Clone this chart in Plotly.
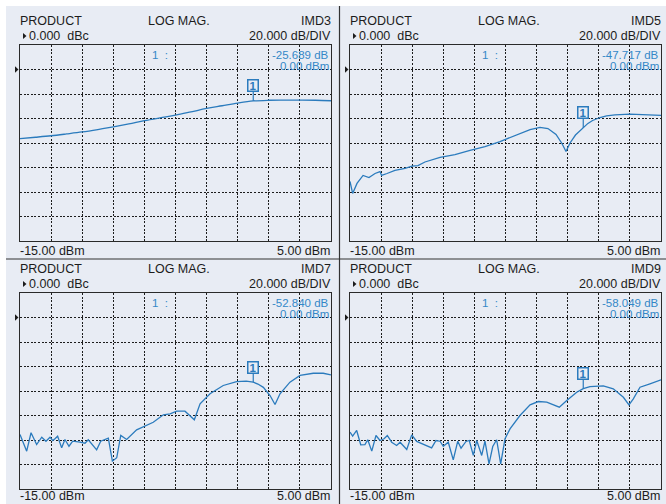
import plotly.graph_objects as go

W, H = 666, 504

# sweep span and vertical scale shared by all four traces
x_start, x_stop, x_step = -15.0, 5.0, 2.0
ref_level = 0.0
db_per_div = 20.0
divs_above_ref, divs_below_ref = 1, 7

panel_names = ["IMD3", "IMD5", "IMD7", "IMD9"]
product_label = "PRODUCT"
format_label = "LOG MAG."
ref_label = "0.000  dBc"
scale_label = "20.000 dB/DIV"
marker_id = "1"
marker_x = 0.00
marker_values = [-25.689, -47.717, -52.840, -58.049]

# IMD3 vs input power
imd3_dbm = [-15, -14, -13, -12, -11, -10, -9, -8, -7, -6, -5, -4, -3, -2, -1,
            0, 1, 2, 3, 4, 5]
imd3_db = [-56.4, -55.3, -54.1, -52.6, -51.0, -49.0, -46.8, -44.4, -41.8, -39.5,
           -37.3, -34.6, -31.8, -29.6, -27.4, -25.689, -25.1, -25.0, -25.0,
           -25.1, -25.5]

# IMD5 vs input power
imd5_dbm = [-15.0, -14.83, -14.55, -14.16, -13.78, -13.39, -13.07, -12.97, -12.62,
            -12.11, -11.46, -11.01, -10.63, -10.18, -9.21, -8.25, -7.28, -6.32,
            -5.35, -4.39, -3.42, -2.78, -2.27, -1.75, -1.37, -1.11, -0.85, -0.5,
            -0.25, 0.0, 0.3, 0.6, 1.08, 1.5, 2.04, 3.0, 3.97, 5.0]
imd5_db = [-91.4, -101.2, -93.0, -86.5, -88.2, -84.9, -83.3, -86.5, -84.9,
           -82.4, -80.8, -78.8, -78.4, -75.5, -71.8, -69.4, -66.1, -62.9,
           -58.8, -53.9, -49.0, -47.3, -48.2, -53.0, -60.4, -66.9, -60.0, -53.5,
           -50.3, -47.717, -44.0, -41.6, -39.2, -37.9, -37.0, -36.4, -36.7, -37.5]

# IMD7 vs input power
imd7_dbm = [-15.0, -14.57, -14.29, -13.93, -13.60, -13.33, -13.07, -12.90, -12.75,
            -12.58, -12.32, -12.11, -11.85, -11.61, -11.14, -10.82, -10.61, -10.07,
            -9.81, -9.32, -9.06, -8.78, -8.52, -8.14, -7.50, -6.85, -6.43, -5.78,
            -5.35, -4.92, -4.39, -3.79, -3.42, -2.78, -1.93, -1.07, -0.45, 0.0,
            0.3, 0.65, 1.08, 1.40, 1.72, 2.36, 3.01, 3.86, 4.50, 5.0]
imd7_db = [-95.5, -109.1, -94.1, -103.7, -97.7, -101.0, -97.7, -100.4, -99.0,
           -96.9, -106.4, -99.6, -105.1, -101.0, -101.8, -102.6, -99.8, -108.0,
           -101.0, -98.5, -117.3, -114.5, -96.3, -99.6, -91.7, -87.6, -85.5, -79.4,
           -78.6, -76.5, -76.5, -83.5, -70.4, -62.3, -55.5, -52.3, -51.9, -52.84,
           -54.3, -57.0, -63.7, -71.0, -62.3, -52.8, -47.3, -45.5, -45.5, -46.8]

# IMD9 vs input power
imd9_dbm = [-15.0, -14.83, -14.57, -14.31, -14.04, -13.86, -13.60, -13.33, -13.07,
            -12.81, -12.60, -12.32, -12.00, -11.78, -11.35, -11.03, -10.71, -10.29,
            -9.96, -9.75, -9.47, -9.21, -9.00, -8.68, -8.36, -8.07, -7.86, -7.54,
            -7.33, -7.07, -6.85, -6.53, -6.32, -6.06, -5.82, -5.57, -5.31, -5.03,
            -4.71, -4.07, -3.42, -2.89, -2.35, -1.54, -1.06, -0.42, 0.0, 0.43,
            1.29, 1.93, 2.58, 2.94, 3.22, 3.65, 4.29, 5.0]
imd9_db = [-93.6, -96.9, -92.2, -103.9, -103.7, -99.8, -109.1, -96.3, -100.4,
           -99.0, -96.3, -101.8, -104.5, -101.8, -107.8, -95.8, -101.2, -103.7,
           -105.3, -106.4, -100.4, -101.0, -105.1, -101.8, -116.2, -101.0, -106.7,
           -101.2, -100.4, -112.6, -100.4, -112.6, -101.0, -119.4, -105.3, -99.8,
           -119.4, -99.0, -90.9, -80.0, -71.3, -68.6, -69.1, -73.2, -67.8, -61.0,
           -58.049, -56.4, -55.8, -58.2, -65.1, -71.3, -66.4, -56.9, -54.1, -50.9]

series = [(imd3_dbm, imd3_db), (imd5_dbm, imd5_db),
          (imd7_dbm, imd7_db), (imd9_dbm, imd9_db)]
line_shapes = ["spline", "linear", "linear", "linear"]

# colours and fonts
BG = "#e8ecf4"
INK = "#1c1c1c"
TRACE = "#2b7bbd"
READOUT = "#3488c8"
FONT = "Liberation Sans, Arial, Helvetica, sans-serif"

# pixel frames of the four graticules: (left, top, right, bottom)
frames = [(20, 45, 331, 241), (350, 45, 661, 241),
          (20, 293, 331, 489), (350, 293, 661, 489)]


def px(x):
    return x / W


def py(y):
    return 1 - y / H


fig = go.Figure()
annotations = []
shapes = []

# panel background with a thin white margin at top and left
shapes.append(dict(type="rect", xref="paper", yref="paper",
                   x0=px(6), x1=1, y0=0, y1=py(6),
                   fillcolor=BG, line=dict(width=0), layer="below"))

y_lo = ref_level - divs_below_ref * db_per_div
y_hi = ref_level + divs_above_ref * db_per_div

for i, ((xs, ys), (l, t, r, b)) in enumerate(zip(series, frames)):
    n = "" if i == 0 else str(i + 1)
    xa, ya = "x" + n, "y" + n
    axis_style = dict(showgrid=True, gridcolor=INK, gridwidth=1,
                      griddash="2px,1.6px", showline=True, linecolor="#2a2a2a",
                      linewidth=1, mirror=True, showticklabels=False, ticks="",
                      zeroline=False, fixedrange=True)
    fig.update_layout(**{
        "xaxis" + n: dict(domain=[px(l), px(r)], range=[x_start, x_stop],
                          tick0=x_start, dtick=x_step, anchor=ya, **axis_style),
        "yaxis" + n: dict(domain=[py(b), py(t)], range=[y_lo, y_hi],
                          tick0=ref_level, dtick=db_per_div, anchor=xa,
                          **axis_style),
    })
    fig.add_trace(go.Scatter(x=xs, y=ys, mode="lines", xaxis=xa, yaxis=ya,
                             line=dict(color=TRACE, width=1.3,
                                       shape=line_shapes[i]),
                             hoverinfo="skip", showlegend=False))

    # header text above the graticule
    row1 = t - 24
    row2 = t - 9
    hdr = dict(xref="paper", yref="paper", showarrow=False, borderpad=0,
               font=dict(family=FONT, size=12.5, color=INK), yanchor="middle")
    annotations += [
        dict(hdr, x=px(l - 1), y=py(row1), text=product_label, xanchor="left"),
        dict(hdr, x=px(l + 158.5), y=py(row1), text=format_label, xanchor="center"),
        dict(hdr, x=px(r + 1), y=py(row1), text=panel_names[i], xanchor="right"),
        dict(hdr, x=px(l + 8), y=py(row2), text=ref_label, xanchor="left"),
        dict(hdr, x=px(r + 1), y=py(row2), text=scale_label, xanchor="right"),
    ]
    # sweep limits under the graticule (kept inside the page at the bottom)
    lim_bottom = min(b + 18, H)
    lim = dict(hdr, yanchor="bottom", y=py(lim_bottom))
    annotations += [
        dict(lim, x=px(l - 1), text=f"{x_start:.2f} dBm", xanchor="left"),
        dict(lim, x=px(r + 1), text=f"{x_stop:.2f} dBm", xanchor="right"),
    ]
    # small pointer in front of the reference value
    tx, ty = l + 3, row2
    shapes.append(dict(type="path", xref="paper", yref="paper",
                       path=f"M {px(tx)} {py(ty - 3)} L {px(tx + 3.5)} {py(ty)} "
                            f"L {px(tx)} {py(ty + 3)} Z",
                       fillcolor=INK, line=dict(width=0)))
    # reference-level pointer at the left edge of the graticule
    shapes.append(dict(type="path", xref="paper", yref=ya,
                       path=f"M {px(l - 5)} {ref_level + 2.6} L {px(l - 1.5)} {ref_level} "
                            f"L {px(l - 5)} {ref_level - 2.6} Z",
                       fillcolor=INK, line=dict(width=0)))

    # marker readout
    ro = dict(xref="paper", yref="paper", showarrow=False, borderpad=0,
              font=dict(family=FONT, size=11.5, color=READOUT), yanchor="middle")
    annotations += [
        dict(ro, x=px(l + 131), y=py(t + 10), text=f"{marker_id}  :", xanchor="left"),
        dict(ro, x=px(r - 1), y=py(t + 10), text=f"{marker_values[i]:.3f} dB",
             xanchor="right"),
        dict(ro, x=px(r - 1), y=py(t + 21), text=f"{marker_x:.2f} dBm",
             xanchor="right"),
    ]
    # marker flag on the trace
    annotations.append(dict(
        xref=xa, yref=ya, x=marker_x, y=marker_values[i], text=f"<b>{marker_id}</b>",
        showarrow=True, arrowhead=0, arrowwidth=1.2, arrowcolor=TRACE,
        ax=0, ay=-15, standoff=0, startstandoff=0,
        bordercolor=TRACE, borderwidth=1.5, borderpad=0, bgcolor=BG,
        width=9, height=10,
        font=dict(family=FONT, size=11.5, color=TRACE)))

# dividers between the four displays
shapes += [
    dict(type="line", xref="paper", yref="paper", x0=px(339.5), x1=px(339.5),
         y0=0, y1=py(6), line=dict(color="#333333", width=1.2)),
    dict(type="line", xref="paper", yref="paper", x0=px(6), x1=1,
         y0=py(259), y1=py(259), line=dict(color="#333333", width=1.2)),
]

fig.update_layout(width=W, height=H, margin=dict(l=0, r=0, t=0, b=0),
                  paper_bgcolor="white", plot_bgcolor=BG,
                  annotations=annotations, shapes=shapes, showlegend=False)

fig.write_html("out.html", config={"displayModeBar": False})
